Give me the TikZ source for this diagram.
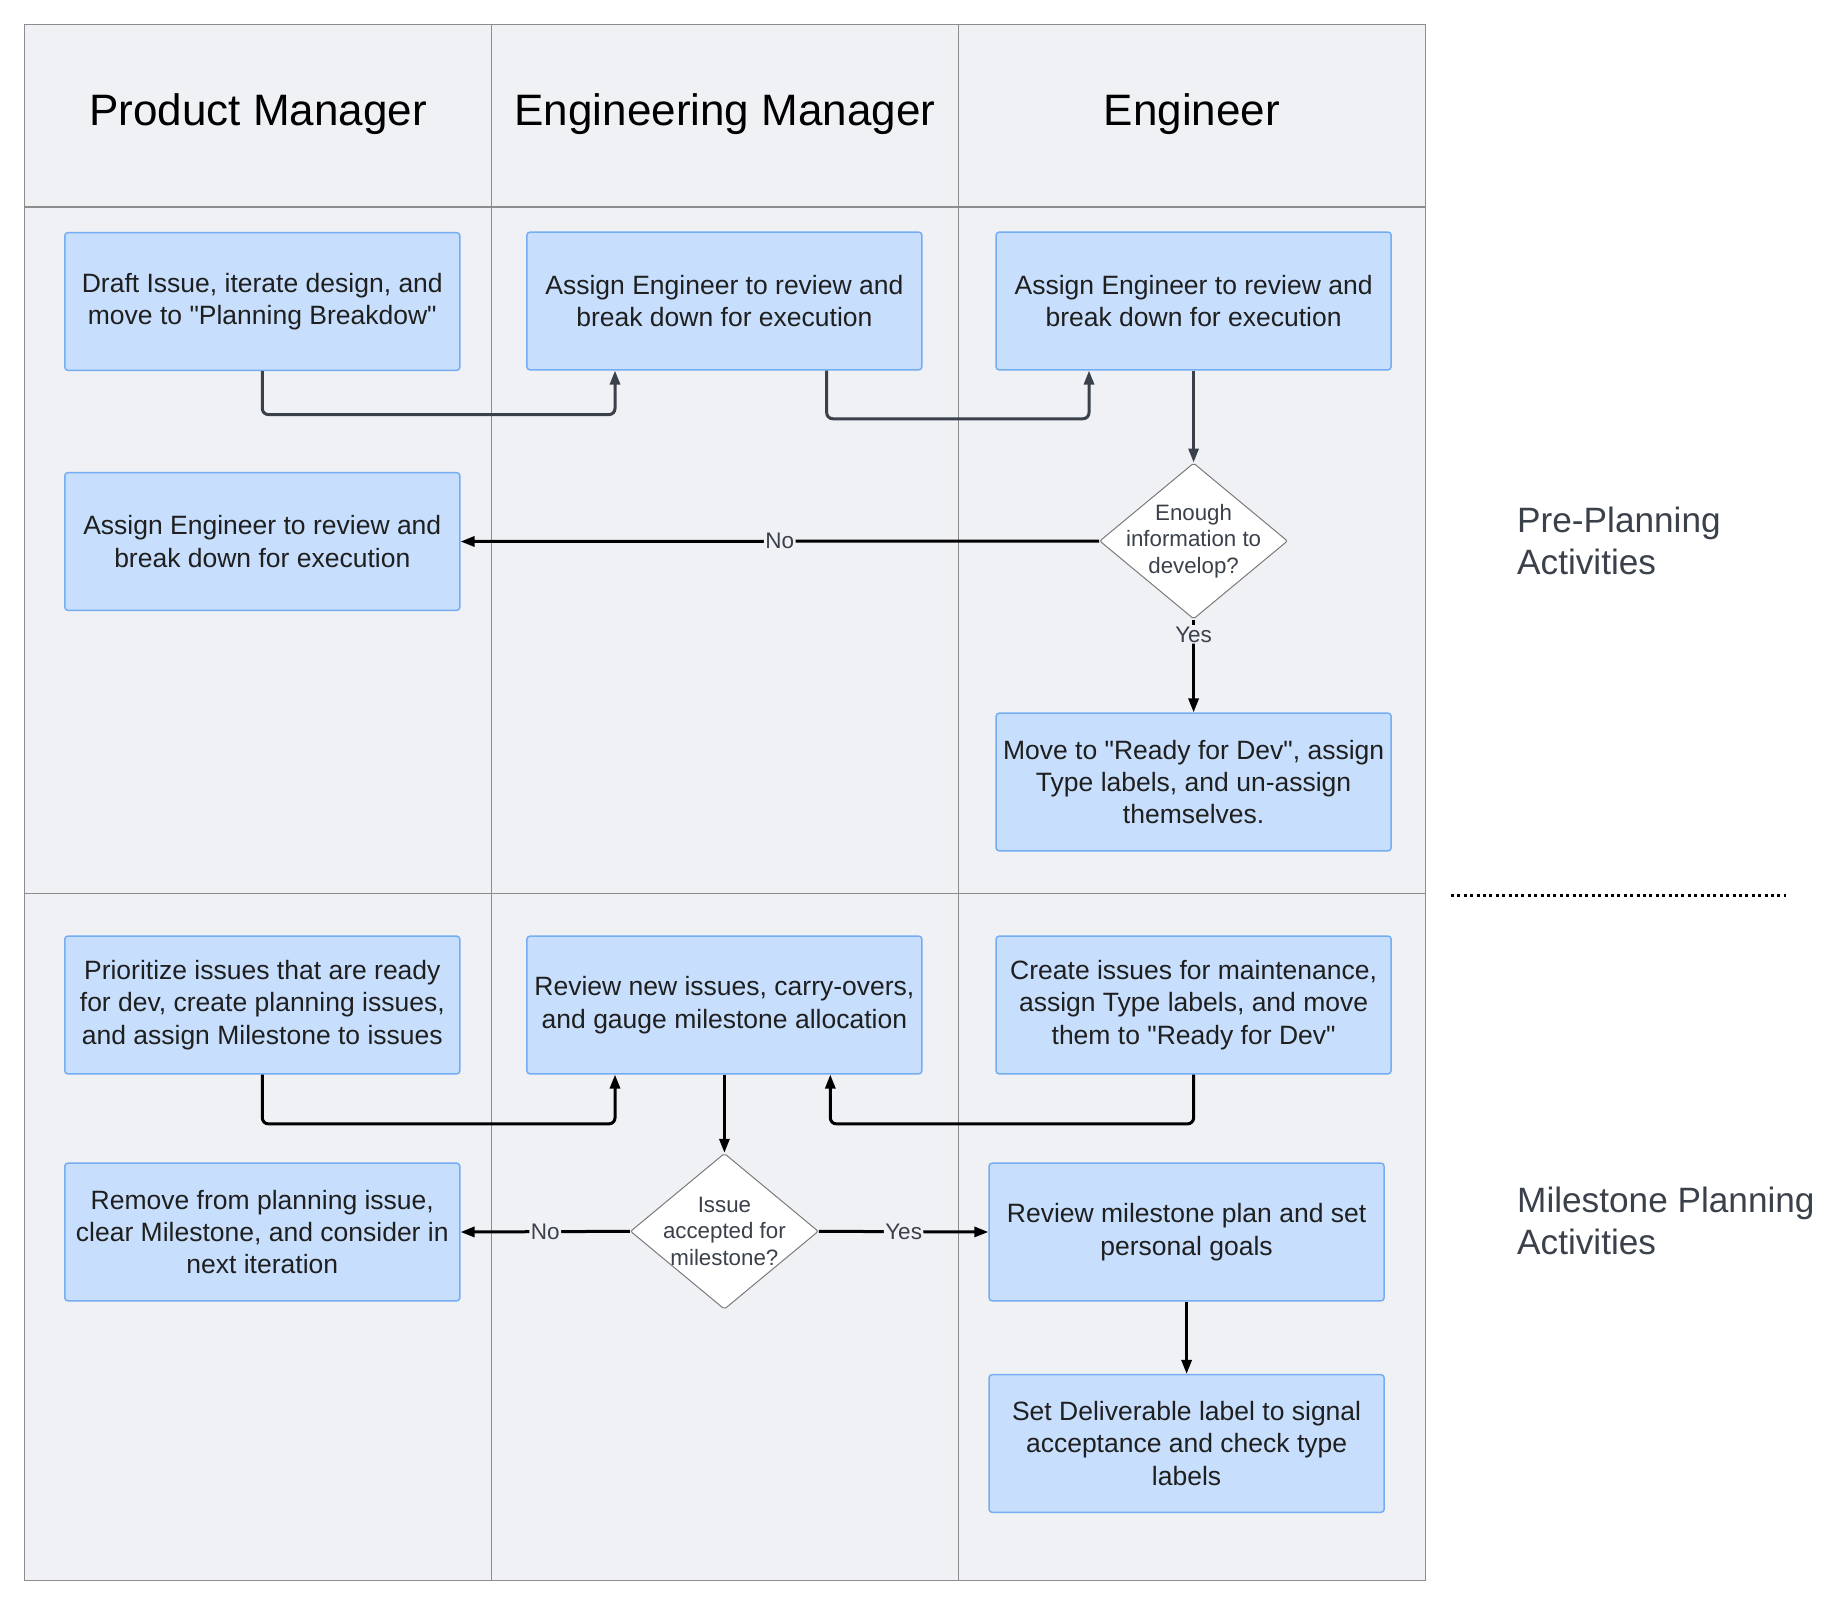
\documentclass[tikz,border=0pt]{standalone}
\usepackage{fontspec}
\setmainfont{Liberation Sans}
\usetikzlibrary{arrows.meta,shapes.geometric,calc}
\definecolor{lanebg}{HTML}{F0F1F5}
\definecolor{laneline}{HTML}{8C8C8C}
\definecolor{boxfill}{HTML}{C7DFFD}
\definecolor{boxline}{HTML}{75ADF3}
\definecolor{darkarrow}{HTML}{3A414A}
\definecolor{boxtext}{HTML}{1F1F1F}
\definecolor{graytext}{HTML}{3A414A}
\definecolor{diamline}{HTML}{7A7A7A}
\newcommand{\dq}{\textquotedbl}
\begin{document}
\begin{tikzpicture}[x=1pt,y=-1pt,
  stepbox/.style={draw=boxline, fill=boxfill, line width=1.5pt, rounded corners=3pt,
    minimum width=395pt, minimum height=137.6pt, inner sep=0pt, align=center,
    text=boxtext, font=\fontsize{26.5}{32.3}\selectfont},
  headtext/.style={text=black, font=\fontsize{44}{53}\selectfont, inner sep=0pt},
  sidetext/.style={text=graytext, align=left, anchor=west, inner sep=0pt,
    font=\fontsize{35.2}{42.3}\selectfont},
  dia/.style={shape=diamond, draw=diamline, fill=white, line width=1pt,
    minimum width=188pt, minimum height=156pt, inner sep=0pt, rounded corners=2pt},
  diatext/.style={text=graytext, align=center, inner sep=0pt,
    font=\fontsize{22.3}{26.5}\selectfont},
  lbl/.style={fill=lanebg, text=graytext, inner sep=1.5pt,
    font=\fontsize{22.5}{26}\selectfont},
  conn/.style={line width=3pt, rounded corners=6pt,
    -{Triangle[length=14pt,width=10pt]}},
  connd/.style={conn, draw=darkarrow},
  connb/.style={conn, draw=black}
]
\useasboundingbox (0,0) rectangle (1844,1606);
\fill[white] (0,0) rectangle (1844,1606);

% swimlanes
\fill[lanebg] (24.7,24.7) rectangle (1425.3,1580.5);
\draw[laneline, line width=1.2pt] (24.7,24.7) rectangle (1425.3,1580.5);
\draw[laneline, line width=1.2pt] (491.6,24.7) -- (491.6,1580.5);
\draw[laneline, line width=1.2pt] (958.4,24.7) -- (958.4,1580.5);
\draw[laneline, line width=1.2pt] (24.7,207) -- (1425.3,207);
\draw[laneline, line width=1.2pt] (24.7,893.8) -- (1425.3,893.8);

% headers
\node[headtext] (hpm) at (258.2,114) {Product Manager};
\node[headtext] (hem) at (725,114) {Engineering Manager};
\node[headtext] (hen) at (1191.9,114) {Engineer};

% pre-planning boxes
\node[stepbox] (a1) at (262.3,301.5) {Draft Issue, iterate design, and\\move to \dq Planning Breakdow\dq};
\node[stepbox] (b1) at (724.4,301) {Assign Engineer to review and\\break down for execution};
\node[stepbox] (c1) at (1193.6,301) {Assign Engineer to review and\\break down for execution};
\node[stepbox] (a2) at (262.3,541.5) {Assign Engineer to review and\\break down for execution};
\node[dia, label={[diatext]center:{Enough\\information to\\develop?}}] (d1) at (1193.6,541) {};
\node[stepbox] (c2) at (1193.6,782) {Move to \dq Ready for Dev\dq, assign\\Type labels, and un-assign\\themselves.};

% milestone planning boxes
\node[stepbox] (a3) at (262.3,1005) {Prioritize issues that are ready\\for dev, create planning issues,\\and assign Milestone to issues};
\node[stepbox] (b3) at (724.4,1005) {Review new issues, carry-overs,\\and gauge milestone allocation};
\node[stepbox] (c3) at (1193.6,1005) {Create issues for maintenance,\\assign Type labels, and move\\them to \dq Ready for Dev\dq};
\node[stepbox] (a4) at (262.3,1232) {Remove from planning issue,\\clear Milestone, and consider in\\next iteration};
\node[dia, label={[diatext]center:{Issue\\accepted for\\milestone?}}] (d2) at (724.4,1231.3) {};
\node[stepbox] (c4) at (1186.6,1232) {Review milestone plan and set\\personal goals};
\node[stepbox] (c5) at (1186.6,1443.5) {Set Deliverable label to signal\\acceptance and check type\\labels};

% side labels
\node[sidetext] (pre) at (1517,541) {Pre-Planning\\Activities};
\node[sidetext] (mil) at (1517,1221) {Milestone Planning\\Activities};
\coordinate (dotl) at (1451,895);
\coordinate (dotr) at (1786,895);
\draw[black, line width=3pt, dash pattern=on 3pt off 3.4pt] (dotl) -- (dotr);

% connectors
\draw[connd] (a1.south) -- ++(0,43.5) -| ([xshift=-109.4pt]b1.south);
\draw[connd] ([xshift=102.3pt]b1.south) -- ++(0,48.2) -| ([xshift=-104.6pt]c1.south);
\draw[connd] (c1.south) -- (d1.north);
\draw[connb] (d1.west) -- node[lbl, pos=0.5] {No} (a2.east);
\draw[connb] (d1.south) -- node[lbl, pos=0.16] {Yes} (c2.north);

\draw[connb] (a3.south) -- ++(0,49.3) -| ([xshift=-109.4pt]b3.south);
\draw[connb] (c3.south) -- ++(0,49.3) -| ([xshift=105.9pt]b3.south);
\draw[connb] (b3.south) -- (d2.north);
\draw[connb] (d2.west) -- node[lbl, pos=0.5] {No} (a4.east);
\draw[connb] (d2.east) -- node[lbl, pos=0.5] {Yes} (c4.west);
\draw[connb] (c4.south) -- (c5.north);
\end{tikzpicture}
\end{document}
